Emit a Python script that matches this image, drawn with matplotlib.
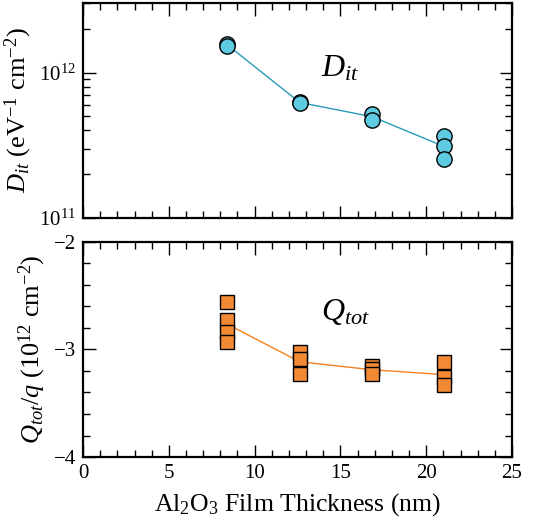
import numpy as np
import matplotlib
matplotlib.use("Agg")
import matplotlib.pyplot as plt
from matplotlib.ticker import MultipleLocator, LogLocator, NullFormatter

plt.rcParams['font.family'] = ['Liberation Serif', 'DejaVu Serif']
plt.rcParams['mathtext.fontset'] = 'custom'
plt.rcParams['mathtext.rm'] = 'Liberation Serif'
plt.rcParams['mathtext.it'] = 'Liberation Serif:italic'
plt.rcParams['mathtext.bf'] = 'Liberation Serif:bold'

# film thickness of each sample group (nm)
thickness = [8.4, 12.63, 16.86, 21.04]

# interface trap density, every measured sample (eV^-1 cm^-2)
dit_points = [
    [1.574e12, 1.53e12],
    [6.3e11, 6.15e11],
    [5.20e11, 4.73e11],
    [3.64e11, 3.11e11, 2.55e11],
]

# total fixed charge / q, every measured sample (1e12 cm^-2)
qtot_points = [
    [-2.561, -2.730, -2.84, -2.929],
    [-3.028, -3.091, -3.226],
    [-3.155, -3.180, -3.233],
    [-3.116, -3.254, -3.333],
]

cyan_fill = '#5ECBE3'
cyan_line = '#2A9BB8'
orange_fill = '#F28A35'
orange_line = '#F7801E'

fig = plt.figure(figsize=(5.5, 5.29), dpi=100)
ax1 = fig.add_axes([0.151, 0.588, 0.780, 0.406])
ax2 = fig.add_axes([0.151, 0.136, 0.780, 0.407])

# --- Dit panel ---
dit_mean = [np.mean(p) for p in dit_points]
ax1.plot(thickness, dit_mean, color=cyan_line, lw=1.0, zorder=2)
for x, vals in zip(thickness, dit_points):
    ax1.plot([x] * len(vals), vals, 'o', ms=11, mfc=cyan_fill, mec='black',
             mew=1.0, ls='none', zorder=3)
ax1.set_yscale('log')
ax1.set_ylim(1e11, 3e12)
ax1.yaxis.set_major_locator(LogLocator(base=10))
ax1.yaxis.set_minor_locator(LogLocator(base=10, subs=np.arange(2, 10)))
ax1.yaxis.set_minor_formatter(NullFormatter())
ax1.set_ylabel(r'$D_{it}$ (eV$^{-1}$ cm$^{-2}$)', fontsize=19, labelpad=4)
ax1.text(15.0, 1.07e12, r'$D_{it}$', fontsize=23, ha='center', va='center')
ax1.tick_params(labelbottom=False)

# --- Qtot panel ---
q_mean = [np.mean(p) for p in qtot_points]
ax2.plot(thickness, q_mean, color=orange_line, lw=1.0, zorder=2)
for x, vals in zip(thickness, qtot_points):
    ax2.plot([x] * len(vals), vals, 's', ms=9.8, mfc=orange_fill, mec='black',
             mew=1.0, ls='none', zorder=3)
ax2.set_ylim(-4, -2)
ax2.yaxis.set_major_locator(MultipleLocator(1))
ax2.yaxis.set_minor_locator(MultipleLocator(0.2))
ax2.set_ylabel(r'$Q_{tot}/q$ (10$^{12}$ cm$^{-2}$)', fontsize=19, labelpad=4)
ax2.set_xlabel(r'Al$_2$O$_3$ Film Thickness (nm)', fontsize=18.5, labelpad=6)
ax2.text(15.3, -2.65, r'$Q_{tot}$', fontsize=23, ha='center', va='center')

for ax in (ax1, ax2):
    ax.set_xlim(0, 25)
    ax.xaxis.set_major_locator(MultipleLocator(5))
    ax.xaxis.set_minor_locator(MultipleLocator(1))
    ax.tick_params(which='both', direction='in', top=True, right=True,
                   labelsize=15, width=1.0, pad=5)
    ax.tick_params(which='major', length=9)
    ax.tick_params(which='minor', length=5)
    for s in ax.spines.values():
        s.set_linewidth(1.6)

fig.savefig('out.png', dpi=100)
